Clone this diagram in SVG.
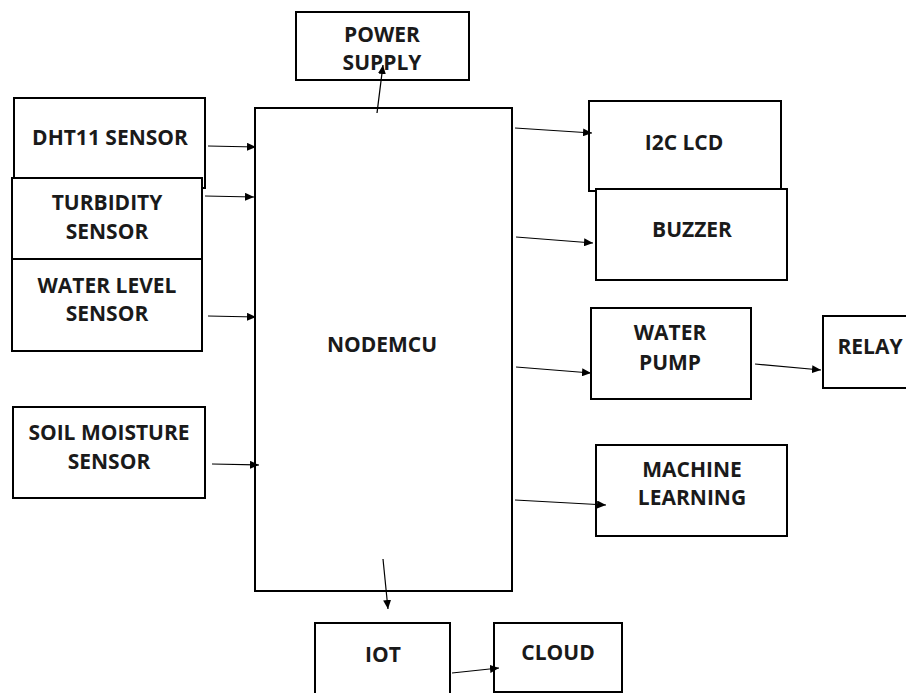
<svg xmlns="http://www.w3.org/2000/svg" width="906" height="693" viewBox="0 0 906 693">
<style>
.box{fill:#fff;stroke:#000;stroke-width:2}
.lbl{font-family:"Open Sans","Liberation Sans",sans-serif;font-weight:bold;font-size:21px;fill:#1a1a1a;text-anchor:middle}
.con{stroke:#000;stroke-width:1.2;fill:none;marker-end:url(#ah)}
</style>
<defs>
<marker id="ah" markerUnits="userSpaceOnUse" markerWidth="10" markerHeight="8" refX="9" refY="4" orient="auto">
<path d="M0,0 L9,4 L0,8 Z" fill="#000"/>
</marker>
</defs>
<rect width="906" height="693" fill="#fff"/>
<g id="power-supply"><rect class="box" x="296" y="12" width="173" height="68"/><text class="lbl" x="382" y="42">POWER</text><text class="lbl" x="382" y="70">SUPPLY</text></g>
<g id="dht11"><rect class="box" x="14" y="98" width="191" height="90"/><text class="lbl" x="110" y="145">DHT11 SENSOR</text></g>
<g id="turbidity"><rect class="box" x="12" y="178" width="190" height="81"/><text class="lbl" x="107" y="210">TURBIDITY</text><text class="lbl" x="107" y="239">SENSOR</text></g>
<g id="water-level"><rect class="box" x="12" y="259" width="190" height="92"/><text class="lbl" x="107" y="293">WATER LEVEL</text><text class="lbl" x="107" y="321">SENSOR</text></g>
<g id="soil-moisture"><rect class="box" x="13" y="407" width="192" height="91"/><text class="lbl" x="109" y="440">SOIL MOISTURE</text><text class="lbl" x="109" y="469">SENSOR</text></g>
<g id="nodemcu"><rect class="box" x="255" y="108" width="257" height="483"/><text class="lbl" x="382" y="352">NODEMCU</text></g>
<g id="i2c-lcd"><rect class="box" x="589" y="101" width="192" height="90"/><text class="lbl" x="684" y="150">I2C LCD</text></g>
<g id="buzzer"><rect class="box" x="596" y="189" width="191" height="91"/><text class="lbl" x="692" y="237">BUZZER</text></g>
<g id="water-pump"><rect class="box" x="591" y="308" width="160" height="91"/><text class="lbl" x="670" y="340">WATER</text><text class="lbl" x="670" y="370">PUMP</text></g>
<g id="relay"><rect class="box" x="823" y="316" width="100" height="72"/><text class="lbl" x="870" y="354">RELAY</text></g>
<g id="machine-learning"><rect class="box" x="596" y="445" width="191" height="91"/><text class="lbl" x="692" y="477">MACHINE</text><text class="lbl" x="692" y="505">LEARNING</text></g>
<g id="iot"><rect class="box" x="315" y="623" width="135" height="100"/><text class="lbl" x="383" y="662">IOT</text></g>
<g id="cloud"><rect class="box" x="494" y="623" width="128" height="69"/><text class="lbl" x="558" y="660">CLOUD</text></g>
<g id="connectors">
<line class="con" x1="377" y1="113" x2="383" y2="65"/>
<line class="con" x1="208" y1="146" x2="256" y2="147"/>
<line class="con" x1="205" y1="196" x2="254" y2="197"/>
<line class="con" x1="208" y1="316" x2="256" y2="317"/>
<line class="con" x1="212" y1="464" x2="259" y2="465"/>
<line class="con" x1="515" y1="128" x2="592" y2="133"/>
<line class="con" x1="516" y1="237" x2="593" y2="243"/>
<line class="con" x1="516" y1="367" x2="591" y2="373"/>
<line class="con" x1="755" y1="364" x2="821" y2="370"/>
<line class="con" x1="515" y1="500" x2="606" y2="505"/>
<line class="con" x1="383" y1="559" x2="388" y2="609"/>
<line class="con" x1="452" y1="673" x2="499" y2="668"/>
</g>
</svg>
